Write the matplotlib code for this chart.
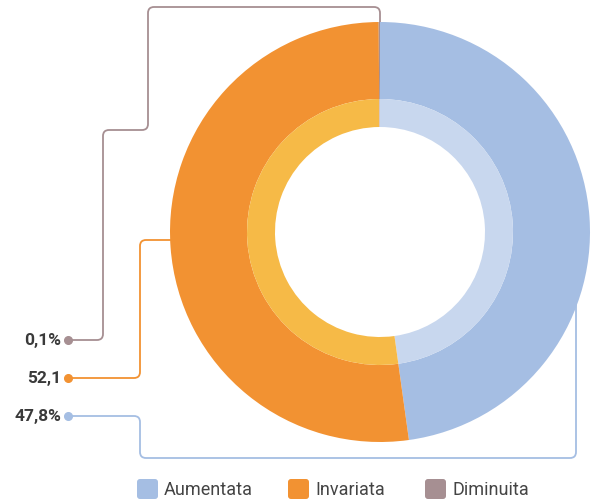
import matplotlib.pyplot as plt
import numpy as np
from matplotlib.path import Path
from matplotlib.patches import PathPatch, FancyBboxPatch

categorie = ["Aumentata", "Invariata", "Diminuita"]
valori = [47.8, 52.1, 0.1]
etichette = ["47,8%", "52,1", "0,1%"]

col_esterno = ["#a5bee3", "#f29232", "#a68f92"]
col_interno = ["#c8d7ee", "#f6ba47", "#c9b9bc"]
col_testo = "#3a3a3a"
font = ["Roboto", "DejaVu Sans"]

W, H = 592, 501


def py(y):
    # pixel y (dall'alto) -> coordinata dati
    return H - y


def linea_arrotondata(punti, r=6):
    pts = [np.array([x, py(y)], float) for x, y in punti]
    verts = [pts[0]]
    codes = [Path.MOVETO]
    for i in range(1, len(pts) - 1):
        a, b, c = pts[i - 1], pts[i], pts[i + 1]
        d1 = (a - b) / np.linalg.norm(a - b)
        d2 = (c - b) / np.linalg.norm(c - b)
        verts += [b + d1 * r, b, b + d2 * r]
        codes += [Path.LINETO, Path.CURVE3, Path.CURVE3]
    verts.append(pts[-1])
    codes.append(Path.LINETO)
    return Path(verts, codes)


fig = plt.figure(figsize=(5.92, 5.01), dpi=100)
ax = fig.add_axes([0, 0, 1, 1])

centro = (380, py(232))

# linee guida (sotto la ciambella)
percorsi = [
    [(68, 416), (140, 416), (140, 458), (576, 458), (576, 300)],
    [(68, 378), (140, 378), (140, 240), (175, 240)],
    [(68, 340), (103, 340), (103, 130), (148, 130), (148, 7), (380, 7), (380, 30)],
]
y_etich = [416, 378, 340]
for i, p in enumerate(percorsi):
    ax.add_patch(PathPatch(linea_arrotondata(p), fill=False, edgecolor=col_esterno[i],
                           lw=1.3, zorder=1))
    ax.plot(p[0][0], py(p[0][1]), "o", ms=5.5, color=col_esterno[i], zorder=2)
    ax.text(61, py(y_etich[i]), etichette[i], ha="right", va="center",
            fontsize=12.5, fontweight="bold", color=col_testo, family=font)

ax.pie(valori, colors=col_esterno, radius=210, center=centro, startangle=90,
       counterclock=False, wedgeprops=dict(width=77, linewidth=0), frame=True)
ax.pie(valori, colors=col_interno, radius=133, center=centro, startangle=90,
       counterclock=False, wedgeprops=dict(width=28, linewidth=0), frame=True)
ax.set_xlim(0, W)
ax.set_ylim(0, H)
ax.set_aspect("auto")
ax.axis("off")

# legenda
x_leg = [137, 288, 425]
for i, nome in enumerate(categorie):
    ax.add_patch(FancyBboxPatch((x_leg[i] + 3, py(499) + 3), 15, 14,
                                boxstyle="round,pad=3", facecolor=col_esterno[i],
                                edgecolor="none"))
    ax.text(x_leg[i] + 27, py(490), nome, ha="left", va="center", fontsize=13,
            color="#444444", family=font)

plt.savefig("out.png", dpi=100)
